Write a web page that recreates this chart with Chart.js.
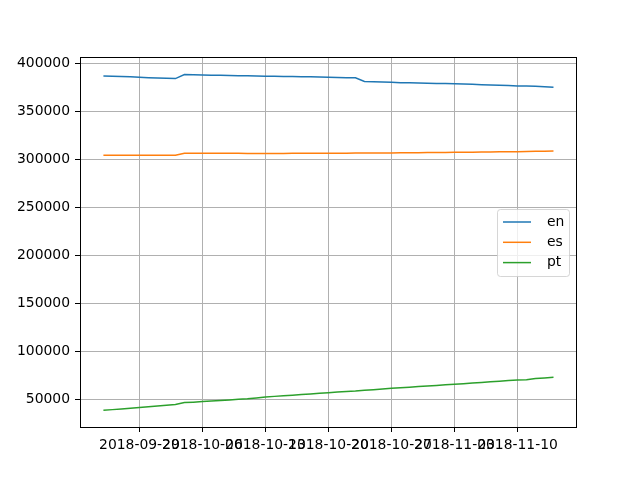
<!DOCTYPE html>
<html>
<head>
<meta charset="utf-8">
<script src="https://cdn.jsdelivr.net/npm/chart.js@4/dist/chart.umd.min.js"></script>
<style>
  html, body { margin: 0; padding: 0; background: #fff; }
</style>
</head>
<body>
<canvas id="chart" width="640" height="480"></canvas>
<script>
// ── data ──────────────────────────────────────────────────────────────────────

var dates = [
  "2018-09-25", "2018-09-26", "2018-09-27", "2018-09-28", "2018-09-29", "2018-09-30",
  "2018-10-01", "2018-10-02", "2018-10-03", "2018-10-04", "2018-10-05", "2018-10-06",
  "2018-10-07", "2018-10-08", "2018-10-09", "2018-10-10", "2018-10-11", "2018-10-12",
  "2018-10-13", "2018-10-14", "2018-10-15", "2018-10-16", "2018-10-17", "2018-10-18",
  "2018-10-19", "2018-10-20", "2018-10-21", "2018-10-22", "2018-10-23", "2018-10-24",
  "2018-10-25", "2018-10-26", "2018-10-27", "2018-10-28", "2018-10-29", "2018-10-30",
  "2018-10-31", "2018-11-01", "2018-11-02", "2018-11-03", "2018-11-04", "2018-11-05",
  "2018-11-06", "2018-11-07", "2018-11-08", "2018-11-09", "2018-11-10", "2018-11-11",
  "2018-11-12", "2018-11-13", "2018-11-14"
];

var en = [
  386800, 386500, 386200, 385800, 385400, 385000, 384600, 384300, 384000,
  388200, 388000, 387800, 387600, 387400, 387200, 387000, 386900, 386700, 386500,
  386400, 386300, 386200, 386000, 385800, 385600, 385400,
  385200, 385000, 384800, 381000, 380700, 380400, 380100,
  379800, 379600, 379400, 379200, 379000, 378800, 378600,
  378300, 378000, 377700, 377400, 377100, 376800, 376400,
  376200, 376000, 375500, 375000
];

var es = [
  304200, 304200, 304100, 304100, 304100, 304100, 304100, 304100, 304100,
  306300, 306300, 306250, 306200, 306200, 306150, 306150, 306100, 306100, 306100,
  306100, 306100, 306150, 306200, 306200, 306250, 306300,
  306300, 306350, 306400, 306450, 306500, 306550, 306600,
  306650, 306700, 306800, 306900, 307000, 307100, 307200,
  307300, 307400, 307500, 307600, 307700, 307800, 307900,
  308100, 308200, 308350, 308500
];

var pt = [
  38500, 39200, 39900, 40700, 41400, 42200, 42900, 43700, 44500,
  46500, 47000, 47600, 48100, 48700, 49300, 49900, 50500, 51400, 52300,
  53000, 53600, 54200, 54900, 55500, 56200, 56900,
  57600, 58200, 58600, 59300, 60000, 60700, 61400,
  62000, 62600, 63200, 63800, 64400, 65000, 65600,
  66200, 66900, 67500, 68200, 68800, 69500, 70100,
  70300, 71500, 72200, 72900
];

var seriesLabels = ["en", "es", "pt"];
var seriesColors = ["#1f77b4", "#ff7f0e", "#2ca02c"];

var xTickDates = ["2018-09-29", "2018-10-06", "2018-10-13", "2018-10-20",
                  "2018-10-27", "2018-11-03", "2018-11-10"];
var yTicks = [50000, 100000, 150000, 200000, 250000, 300000, 350000, 400000];

// ── helpers ───────────────────────────────────────────────────────────────────

var FONT = "'DejaVu Sans', Verdana, sans-serif";

function xDay(d) {
  return (Date.parse(d) - Date.parse(dates[0])) / 864e5;
}

function points(values) {
  return values.map(function(v, i) { return { x: xDay(dates[i]), y: v }; });
}

// frame + legend drawn like matplotlib
var framePlugin = {
  id: "frame",
  afterDraw: function(chart) {
    var ctx = chart.ctx, a = chart.chartArea;
    ctx.save();
    ctx.strokeStyle = "#000";
    ctx.lineWidth = 1;
    ctx.strokeRect(Math.round(a.left) + 0.5, Math.round(a.top) + 0.5,
                   Math.round(a.right - a.left), Math.round(a.bottom - a.top));

    // legend box
    var bx = 497.5, by = 209.5, bw = 72, bh = 67, r = 3;
    ctx.beginPath();
    ctx.moveTo(bx + r, by);
    ctx.lineTo(bx + bw - r, by);
    ctx.quadraticCurveTo(bx + bw, by, bx + bw, by + r);
    ctx.lineTo(bx + bw, by + bh - r);
    ctx.quadraticCurveTo(bx + bw, by + bh, bx + bw - r, by + bh);
    ctx.lineTo(bx + r, by + bh);
    ctx.quadraticCurveTo(bx, by + bh, bx, by + bh - r);
    ctx.lineTo(bx, by + r);
    ctx.quadraticCurveTo(bx, by, bx + r, by);
    ctx.closePath();
    ctx.fillStyle = "rgba(255,255,255,0.8)";
    ctx.fill();
    ctx.strokeStyle = "rgba(204,204,204,0.8)";
    ctx.stroke();

    ctx.font = "13.9px " + FONT;
    ctx.textBaseline = "middle";
    ctx.textAlign = "left";
    chart.data.datasets.forEach(function(ds, i) {
      var y = 222 + i * 20.3;
      ctx.strokeStyle = ds.borderColor;
      ctx.lineWidth = 1.5;
      ctx.beginPath();
      ctx.moveTo(503, y);
      ctx.lineTo(531, y);
      ctx.stroke();
      ctx.fillStyle = "#000";
      ctx.fillText(ds.label, 547, y);
    });
    ctx.restore();
  }
};

// ── chart ─────────────────────────────────────────────────────────────────────

var seriesValues = [en, es, pt];

new Chart(document.getElementById("chart").getContext("2d"), {
  type: "line",
  data: {
    datasets: seriesValues.map(function(vals, i) {
      return {
        label: seriesLabels[i],
        data: points(vals),
        borderColor: seriesColors[i],
        backgroundColor: seriesColors[i],
        borderWidth: 1.5,
        pointRadius: 0,
        tension: 0,
        fill: false
      };
    })
  },
  options: {
    responsive: false,
    animation: false,
    layout: { padding: { top: 57, right: 64, left: 0, bottom: 0 } },
    plugins: {
      legend: { display: false },
      tooltip: { enabled: false }
    },
    scales: {
      x: {
        type: "linear",
        min: -2.6,
        max: 52.5,
        afterBuildTicks: function(scale) {
          scale.ticks = xTickDates.map(function(d) { return { value: xDay(d) }; });
        },
        afterFit: function(scale) { scale.height = 53; },
        ticks: {
          autoSkip: false,
          maxRotation: 0,
          minRotation: 0,
          color: "#000",
          padding: 5,
          font: { family: FONT, size: 13.9 },
          callback: function(v, i) { return xTickDates[i]; }
        },
        grid: { color: "#b0b0b0", lineWidth: 1, tickColor: "#000", tickLength: 5 },
        border: { display: true, color: "#000", width: 1 }
      },
      y: {
        min: 21100,
        max: 406500,
        afterBuildTicks: function(scale) {
          scale.ticks = yTicks.map(function(v) { return { value: v }; });
        },
        afterFit: function(scale) { scale.width = 80; },
        ticks: {
          color: "#000",
          padding: 5,
          font: { family: FONT, size: 13.9 },
          callback: function(v) { return String(v); }
        },
        grid: { color: "#b0b0b0", lineWidth: 1, tickColor: "#000", tickLength: 5 },
        border: { display: true, color: "#000", width: 1 }
      }
    }
  },
  plugins: [framePlugin]
});
</script>
</body>
</html>
